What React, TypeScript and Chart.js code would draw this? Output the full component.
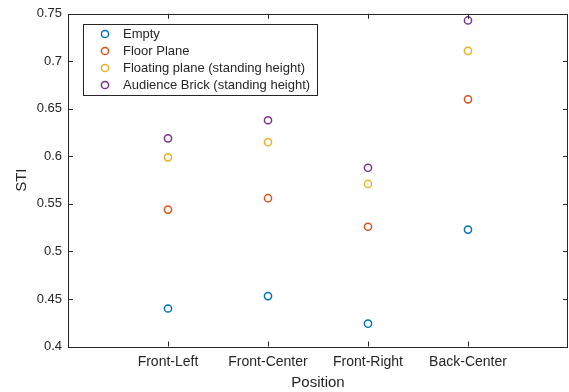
import React, { useEffect, useRef } from "react";
import { Chart, registerables } from "chart.js";

Chart.register(...registerables);

const categories = ["Front-Left", "Front-Center", "Front-Right", "Back-Center"];
const seriesNames = [
  "Empty",
  "Floor Plane",
  "Floating plane (standing height)",
  "Audience Brick (standing height)",
];
const empty = [0.44, 0.453, 0.424, 0.523];
const floorPlane = [0.544, 0.556, 0.526, 0.66];
const floatingPlane = [0.599, 0.615, 0.571, 0.711];
const audienceBrick = [0.619, 0.638, 0.588, 0.743];
const colors = ["#0072BD", "#D95319", "#EDB120", "#7E2F8E"];
const yTicks = [0.4, 0.45, 0.5, 0.55, 0.6, 0.65, 0.7, 0.75];

const FONT = "'Liberation Sans', Arial, Helvetica, sans-serif";
const TEXT = "#262626";

const boxPlugin = {
  id: "matlabBox",
  afterDraw(chart: any) {
    const { ctx, chartArea: a, scales } = chart;
    ctx.save();
    ctx.strokeStyle = "#262626";
    ctx.lineWidth = 1;
    ctx.strokeRect(Math.round(a.left) + 0.5, Math.round(a.top) + 0.5, Math.round(a.right - a.left) - 1, Math.round(a.bottom - a.top));
    const tl = 5;
    ctx.beginPath();
    yTicks.forEach((v) => {
      const y = Math.round(scales.y.getPixelForValue(v)) + 0.5;
      ctx.moveTo(a.left, y);
      ctx.lineTo(a.left + tl, y);
      ctx.moveTo(a.right, y);
      ctx.lineTo(a.right - tl, y);
    });
    categories.forEach((_, i) => {
      const x = Math.round(scales.x.getPixelForValue(i + 1)) + 0.5;
      ctx.moveTo(x, a.bottom);
      ctx.lineTo(x, a.bottom - tl);
      ctx.moveTo(x, a.top);
      ctx.lineTo(x, a.top + tl);
    });
    ctx.stroke();

    // legend
    const lx = 83.5, ly = 24.5, lw = 234, lh = 71;
    ctx.fillStyle = "#ffffff";
    ctx.fillRect(lx, ly, lw, lh);
    ctx.strokeStyle = "#262626";
    ctx.strokeRect(lx, ly, lw, lh);
    ctx.font = `13px ${FONT}`;
    ctx.textBaseline = "middle";
    ctx.textAlign = "left";
    seriesNames.forEach((name, i) => {
      const cy = 34 + i * 17;
      ctx.beginPath();
      ctx.strokeStyle = colors[i];
      ctx.lineWidth = 1.5;
      ctx.arc(105, cy, 3.6, 0, Math.PI * 2);
      ctx.stroke();
      ctx.fillStyle = TEXT;
      ctx.fillText(name, 123, cy + 0.5);
    });
    ctx.restore();
  },
};

export default function App() {
  const ref = useRef<HTMLCanvasElement>(null);
  useEffect(() => {
    document.body.style.margin = "0";
    const all = [empty, floorPlane, floatingPlane, audienceBrick];
    const chart = new Chart(ref.current!, {
      type: "scatter",
      data: {
        datasets: all.map((vals, i) => ({
          label: seriesNames[i],
          data: vals.map((v, j) => ({ x: j + 1, y: v })),
          borderColor: colors[i],
          backgroundColor: "rgba(0,0,0,0)",
          pointRadius: 3.6,
          pointBorderWidth: 1.5,
          pointStyle: "circle",
        })),
      },
      options: {
        animation: false,
        responsive: false,
        devicePixelRatio: 1,
        layout: { autoPadding: false, padding: { top: 10, right: 1, left: 0, bottom: 0 } },
        plugins: { legend: { display: false }, tooltip: { enabled: false } },
        scales: {
          x: {
            type: "linear",
            min: 0,
            max: 5,
            grid: { display: false, drawTicks: false },
            border: { display: false },
            ticks: {
              stepSize: 1,
              padding: 7,
              color: TEXT,
              font: { family: FONT, size: 14 },
              maxRotation: 0,
              callback: (v: any) => (v >= 1 && v <= categories.length ? categories[v - 1] : ""),
            },
            title: {
              display: true,
              text: "Position",
              color: TEXT,
              font: { family: FONT, size: 15 },
              padding: { top: 0, bottom: 0 },
            },
            afterFit: (s: any) => {
              s.height = 45.5;
              s.paddingLeft = 0;
              s.paddingRight = 0;
            },
          },
          y: {
            type: "linear",
            min: 0.4,
            max: 0.75,
            grid: { display: false, drawTicks: false },
            border: { display: false },
            afterBuildTicks: (s: any) => {
              s.ticks = yTicks.map((v) => ({ value: v }));
            },
            ticks: {
              padding: 6,
              color: TEXT,
              font: { family: FONT, size: 13 },
              callback: (v: any) => String(Number(Number(v).toFixed(2))),
            },
            title: {
              display: true,
              text: "STI",
              color: TEXT,
              font: { family: FONT, size: 15 },
              padding: { top: 13, bottom: 4 },
            },
            afterFit: (s: any) => {
              s.width = 68;
            },
          },
        },
      },
      plugins: [boxPlugin],
    });
    return () => chart.destroy();
  }, []);
  return <canvas ref={ref} width={569} height={392} style={{ display: "block" }} />;
}
